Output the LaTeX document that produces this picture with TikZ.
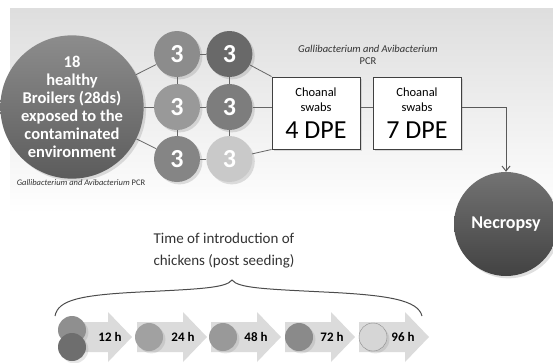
\documentclass[tikz,border=0pt]{standalone}
\usepackage{fontspec}
\setmainfont{Carlito}
\usetikzlibrary{arrows.meta, positioning, shadows}

\begin{document}
\begin{tikzpicture}[x=1pt, y=-1pt,
    herd/.style={circle, inner sep=0pt, minimum size=116pt, top color=black!45, bottom color=black!64, text=white, align=center, font=\bfseries\fontsize{16.5}{18}\selectfont, drop shadow={opacity=0.25}},
    pen/.style={circle, inner sep=0pt, minimum size=46pt, text=white, font=\bfseries\fontsize{26}{26}\selectfont, drop shadow={opacity=0.25}},
    swab/.style={rectangle, draw=black!75, line width=1pt, fill=white, minimum width=88pt, minimum height=72pt, align=center, font=\fontsize{12.5}{15}\selectfont, drop shadow={opacity=0.25}},
    chick/.style={circle, inner sep=0pt, minimum size=28pt, drop shadow={opacity=0.2}},
    stage/.style={fill=black!14},
    hour/.style={font=\bfseries\fontsize{13}{13}\selectfont},
    note/.style={align=center, text=black!80},
    link/.style={draw=black!60, line width=0.8pt},
    flow/.style={-{Straight Barb[length=5pt,width=8pt]}, draw=black!65, line width=1pt}
]
\useasboundingbox (0,0) rectangle (553,362);

% Background band
\shade[top color=black!13, bottom color=white] (10,8) rectangle (553,214);

% Starting group
\node[herd] (herd) at (72,107) {18\\healthy\\Broilers (28ds)\\exposed to the\\contaminated\\environment};
\node[note, font=\itshape\fontsize{8.5}{10}\selectfont] (pcr1) at (81,183) {Gallibacterium and Avibacterium \upshape PCR};

% Pens of three birds
\node[pen, fill=black!45] (p11) at (177,54) {3};
\node[pen, fill=black!59] (p12) [right=6pt of p11] {3};
\node[pen, fill=black!40] (p21) at (177,107) {3};
\node[pen, fill=black!51] (p22) [right=6pt of p21] {3};
\node[pen, fill=black!48] (p31) at (177,159) {3};
\node[pen, fill=black!21] (p32) [right=6pt of p31] {3};

% Sampling
\node[swab] (dpe4) at (316,113) {Choanal\\swabs\\[9pt]{\fontsize{26}{30}\selectfont 4 DPE}};
\node[swab] (dpe7) [right=12pt of dpe4] {Choanal\\swabs\\[9pt]{\fontsize{26}{30}\selectfont 7 DPE}};
\node[note, font=\fontsize{10.5}{12}\selectfont] (pcr2) at (368,55) {\textit{Gallibacterium and Avibacterium}\\PCR};

\node[herd, top color=black!55, bottom color=black!74, font=\bfseries\fontsize{18}{18}\selectfont, minimum size=104pt] (nec) at (506,224) {Necropsy};

% Links between groups
\draw[link] (herd) -- (p11);
\draw[link] (herd) -- (p21);
\draw[link] (herd) -- (p31);
\draw[link] (p11) -- (p12);
\draw[link] (p21) -- (p22);
\draw[link] (p31) -- (p32);
\draw[link] (p11) -- (p21);
\draw[link] (p21) -- (p31);
\draw[link] (p12) -- (p22);
\draw[link] (p22) -- (p32);
\draw[link] (p12) -- (dpe4.north west);
\draw[link] (p22) -- (p22 -| dpe4.west);
\draw[link] (p32) -- (dpe4.south west);
\draw[link] (p22 -| dpe4.east) -- (p22 -| dpe7.west);
\draw[flow] (p22 -| dpe7.east) -| (nec);

% Introduction times
\node[note, font=\fontsize{15}{22}\selectfont] (intro) at (224,251) {Time of introduction of\\chickens (post seeding)};
\draw[black!70, line width=1pt] (55,316) .. controls (58,300) and (80,295) .. (140,292) .. controls (200,289) and (226,288) .. (232,280) .. controls (238,288) and (264,289) .. (324,292) .. controls (388,295) and (418,300) .. (422,316);

\foreach \t in {132,207,281,355,429}
  \fill[stage] (\t-70,322) -- (\t-24,322) -- (\t-24,312) -- (\t,337) -- (\t-24,362) -- (\t-24,352) -- (\t-70,352) -- cycle;

\node[chick, fill=black!44] (k1a) at (72,330) {};
\node[chick, fill=black!57] (k1b) at (72,347) {};
\node[chick, fill=black!37] (k2) at (149,337) {};
\node[chick, fill=black!40] (k3) at (223,337) {};
\node[chick, fill=black!46] (k4) at (299,337) {};
\node[chick, fill=black!16, draw=black!45] (k5) at (373,337) {};

\node[hour] (h1) at (110,337) {12 h};
\node[hour] (h2) at (183,337) {24 h};
\node[hour] (h3) at (256,337) {48 h};
\node[hour] (h4) at (332,337) {72 h};
\node[hour] (h5) at (403,337) {96 h};

\end{tikzpicture}
\end{document}
